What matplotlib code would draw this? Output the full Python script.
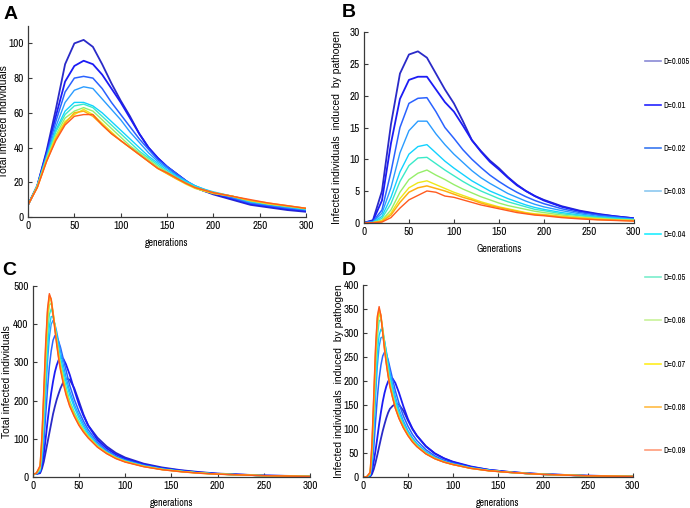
import matplotlib
matplotlib.use("Agg")
import matplotlib.pyplot as plt
from matplotlib.lines import Line2D

NARROW = ['Archivo Narrow', 'Liberation Sans', 'DejaVu Sans']
plt.rcParams['font.family'] = NARROW

labels = ["D=0.005", "D=0.01", "D=0.02", "D=0.03", "D=0.04",
          "D=0.05", "D=0.06", "D=0.07", "D=0.08", "D=0.09"]

# ---------- Panel A: total infected (slow) ----------
a_x = [0, 10, 20, 30, 40, 50, 60, 70, 80, 90, 100, 110, 120, 130, 140, 150,
       160, 170, 180, 190, 200, 220, 240, 260, 280, 300]
a_d005 = [7, 18, 38, 62, 88, 100, 102, 98, 88, 77, 67, 58, 48, 40, 34, 29, 25, 21, 17, 15, 13, 10, 7, 5.5, 4, 3]
a_d01 = [7, 18, 37, 58, 78, 87, 90, 88, 82, 74, 66, 57, 48, 40, 34, 29, 25, 21, 17, 15, 13.5, 10.5, 7.5, 6, 4.5, 3.5]
a_d02 = [7, 18, 36, 55, 72, 80, 81, 80, 74, 66, 59, 52, 45, 39, 33, 29, 25, 21, 18, 15.5, 14, 11, 8, 6.5, 5, 4]
a_d03 = [7, 18, 35, 52, 66, 73, 75, 74, 68, 62, 56, 49, 43, 37, 32, 28, 24, 21, 18, 16, 14, 11.5, 8.5, 7, 5.5, 4.2]
a_d04 = [7, 18, 34, 50, 61, 66, 66, 64, 60, 55, 50, 45, 40, 35, 31, 27, 23.5, 20.5, 18, 16, 14.5, 12, 9, 7.5, 6, 4.5]
a_d05 = [7, 18, 34, 49, 59, 64, 65, 63, 58, 53, 48, 43, 38, 34, 30, 26, 23, 20, 17.5, 15.5, 14, 12, 9, 7.5, 6, 4.6]
a_d06 = [7, 18, 33, 47, 57, 61, 63, 61, 56, 51, 46, 41, 37, 33, 29, 26, 22.5, 19.5, 17, 15, 14, 12, 9.5, 7.5, 6.2, 4.8]
a_d07 = [7, 17, 33, 46, 55, 59, 62, 59, 54, 49, 44, 40, 36, 32, 28, 25, 22, 19, 16.5, 15, 13.5, 12, 9.5, 7.5, 6.3, 5]
a_d08 = [7, 17, 32, 45, 54, 60, 61, 58, 53, 48, 44, 40, 36, 32, 28, 25, 22, 19.5, 17, 15.5, 14, 12, 9.5, 8, 6.5, 5]
a_d09 = [7, 17, 32, 44, 53, 58, 59, 59, 53, 48, 44, 40, 36, 32, 28, 25.5, 22.5, 19.5, 17, 15.5, 14, 12, 10, 8, 6.5, 5]
a_series = [a_d005, a_d01, a_d02, a_d03, a_d04, a_d05, a_d06, a_d07, a_d08, a_d09]

# ---------- Panel B: induced by pathogen (slow) ----------
b_x = a_x
b_d005 = [0, 0.4, 5, 15.5, 23.5, 26.5, 27, 26, 23.5, 21, 18.8, 16, 13, 11.3, 9.8, 8.6, 7.2, 6, 5, 4.2, 3.6, 2.6, 1.9, 1.4, 1.0, 0.7]
b_d01 = [0, 0.3, 3.5, 12.5, 19.5, 22.5, 23, 23, 21, 19, 17.5, 15.3, 13, 11.2, 9.6, 8.4, 7.1, 5.9, 5, 4.2, 3.5, 2.5, 1.8, 1.3, 1.0, 0.7]
b_d02 = [0, 0.2, 2, 8, 15, 18.8, 19.6, 19.7, 17.5, 15, 13.3, 11.5, 10, 8.7, 7.5, 6.5, 5.6, 4.8, 4.1, 3.5, 3, 2.2, 1.6, 1.2, 0.9, 0.6]
b_d03 = [0, 0.1, 1.5, 5.5, 11, 14.5, 16, 16, 14, 12.3, 10.8, 9.5, 8.2, 7.1, 6.2, 5.4, 4.6, 4, 3.4, 2.9, 2.5, 1.9, 1.4, 1, 0.8, 0.55]
b_d04 = [0, 0.05, 1, 4, 8, 10.8, 12, 12.3, 11, 9.7, 8.6, 7.6, 6.6, 5.8, 5, 4.4, 3.8, 3.3, 2.8, 2.4, 2.1, 1.6, 1.2, 0.9, 0.7, 0.5]
b_d05 = [0, 0, 0.7, 3, 6.5, 9, 10.2, 10.3, 9.3, 8.3, 7.4, 6.5, 5.7, 5, 4.4, 3.8, 3.3, 2.9, 2.5, 2.1, 1.9, 1.4, 1.1, 0.8, 0.6, 0.45]
b_d06 = [0, 0, 0.4, 2, 4.8, 6.8, 7.8, 8.3, 7.5, 6.8, 6, 5.3, 4.7, 4.1, 3.6, 3.1, 2.7, 2.4, 2.1, 1.8, 1.6, 1.2, 0.9, 0.7, 0.5, 0.4]
b_d07 = [0, 0, 0.3, 1.5, 3.8, 5.5, 6.3, 6.6, 6, 5.4, 4.8, 4.3, 3.8, 3.3, 2.9, 2.5, 2.2, 1.9, 1.6, 1.4, 1.3, 1.0, 0.8, 0.6, 0.45, 0.35]
b_d08 = [0, 0, 0.2, 1.2, 3.2, 4.8, 5.5, 5.8, 5.4, 5, 4.5, 4, 3.6, 3.1, 2.7, 2.4, 2.1, 1.8, 1.5, 1.3, 1.2, 0.9, 0.7, 0.5, 0.4, 0.3]
b_d09 = [0, 0, 0.1, 0.8, 2.3, 3.6, 4.3, 5, 4.8, 4.2, 4, 3.6, 3.2, 2.8, 2.5, 2.2, 1.9, 1.6, 1.4, 1.2, 1.1, 0.8, 0.6, 0.45, 0.35, 0.25]
b_series = [b_d005, b_d01, b_d02, b_d03, b_d04, b_d05, b_d06, b_d07, b_d08, b_d09]

# ---------- Panel C: total infected (fast) ----------
c_x = [0, 4, 8, 10, 12, 14, 16, 18, 20, 22, 24, 26, 28, 30, 33, 36, 40, 45, 50, 55,
       60, 70, 80, 90, 100, 120, 140, 160, 180, 200, 250, 300]
c_d005 = [7, 8, 10, 22, 40, 65, 90, 115, 140, 165, 185, 203, 218, 232, 248, 257, 255, 232, 198, 163, 135, 103, 80, 63, 51, 35, 25, 18, 13, 9, 4, 2]
c_d01 = [7, 8, 12, 30, 60, 100, 145, 185, 220, 250, 275, 293, 306, 312, 310, 295, 268, 228, 190, 160, 135, 97, 75, 59, 48, 33, 23, 17, 12, 8.5, 3.8, 1.8]
c_d02 = [7, 8, 14, 40, 90, 160, 230, 290, 330, 358, 370, 368, 355, 340, 310, 280, 240, 203, 172, 146, 124, 91, 70, 55, 45, 31, 22, 16, 11, 8, 3.6, 1.7]
c_d03 = [7, 9, 16, 50, 120, 210, 300, 365, 400, 410, 400, 380, 355, 330, 295, 262, 225, 190, 162, 138, 117, 86, 67, 52, 43, 30, 21, 15, 11, 7.8, 3.5, 1.6]
c_d04 = [7, 9, 18, 60, 140, 240, 335, 395, 420, 420, 400, 370, 340, 315, 280, 250, 215, 182, 155, 132, 112, 83, 65, 51, 42, 29, 20.5, 15, 10.6, 7.8, 3.5, 1.6]
c_d05 = [7, 9, 20, 70, 160, 270, 370, 425, 440, 425, 395, 360, 330, 300, 268, 236, 200, 170, 146, 125, 109, 82, 64, 51, 41.5, 28.5, 20, 14.8, 10.6, 7.7, 3.5, 1.6]
c_d06 = [7, 10, 22, 80, 180, 300, 400, 450, 455, 430, 395, 358, 324, 294, 258, 227, 194, 165, 141, 122, 106, 81, 63, 50, 41, 28, 20, 14.5, 10.5, 7.7, 3.5, 1.6]
c_d07 = [7, 10, 25, 90, 200, 320, 420, 466, 462, 432, 393, 355, 320, 290, 254, 223, 191, 163, 139, 121, 105, 80, 63, 50, 40, 28, 19.5, 14.5, 10, 7.6, 3.5, 1.5]
c_d08 = [7, 10, 28, 100, 215, 335, 430, 475, 466, 430, 390, 350, 315, 285, 250, 220, 188, 160, 137, 119, 104, 79, 62, 49, 40, 27.5, 19.5, 14, 10, 7.5, 3.5, 1.5]
c_d09 = [7, 10, 30, 110, 230, 350, 440, 480, 465, 425, 385, 345, 310, 280, 245, 215, 185, 158, 135, 117, 102, 78, 61, 48, 39, 27, 19, 14, 10, 7.5, 3.5, 1.5]
c_series = [c_d005, c_d01, c_d02, c_d03, c_d04, c_d05, c_d06, c_d07, c_d08, c_d09]

# ---------- Panel D: induced by pathogen (fast) ----------
d_x = c_x
d_d005 = [0, 0, 1, 6, 16, 30, 46, 63, 80, 96, 110, 123, 134, 142, 148, 152, 151, 138, 118, 100, 86, 64, 49, 39, 31, 21, 15, 11, 8, 6, 2.7, 1.3]
d_d01 = [0, 0, 2, 12, 32, 55, 82, 110, 135, 157, 175, 189, 199, 205, 205, 196, 176, 147, 121, 101, 86, 64, 49, 39, 32, 22, 15, 11, 8, 5.8, 2.7, 1.3]
d_d02 = [0, 0, 3, 20, 60, 115, 165, 205, 233, 252, 260, 256, 244, 228, 204, 180, 154, 127, 106, 89, 76, 57, 44, 35, 29, 20, 14.5, 10.5, 7.8, 5.7, 2.6, 1.2]
d_d03 = [0, 0, 4, 30, 90, 165, 230, 272, 290, 292, 282, 262, 240, 218, 192, 168, 142, 117, 97, 82, 70, 53, 41, 33, 27.5, 19, 14, 10, 7.6, 5.6, 2.6, 1.2]
d_d04 = [0, 0, 5, 36, 105, 190, 260, 295, 308, 302, 284, 260, 236, 212, 185, 160, 135, 112, 93, 79, 68, 51, 40, 32, 27, 19, 13.5, 10, 7.6, 5.6, 2.5, 1.2]
d_d05 = [0, 0, 6, 42, 120, 215, 290, 325, 328, 310, 282, 253, 226, 202, 176, 152, 129, 107, 90, 77, 66, 50, 39, 32, 26.5, 18.5, 13.5, 10, 7.5, 5.5, 2.5, 1.2]
d_d06 = [0, 0, 7, 48, 135, 235, 310, 340, 332, 307, 275, 245, 218, 195, 170, 148, 126, 105, 89, 76, 65, 49, 39, 31.5, 26.5, 18.5, 13.5, 10, 7.5, 5.5, 2.5, 1.2]
d_d07 = [0, 0, 8, 55, 148, 250, 322, 345, 335, 305, 272, 241, 215, 192, 168, 146, 124, 104, 88, 75, 64, 49, 38.5, 31.5, 26, 18, 13, 10, 7.5, 5.5, 2.5, 1.2]
d_d08 = [0, 0, 9, 62, 160, 260, 330, 350, 337, 303, 268, 238, 212, 190, 166, 144, 123, 103, 87, 74, 64, 48.5, 38, 31, 26, 18, 13, 10, 7.5, 5.5, 2.5, 1.2]
d_d09 = [0, 0, 10, 70, 170, 270, 335, 355, 336, 300, 265, 235, 210, 188, 165, 143, 122, 102, 86, 73, 63, 48, 38, 31, 26, 18, 13, 10, 7.5, 5.5, 2.5, 1.2]
d_series = [d_d005, d_d01, d_d02, d_d03, d_d04, d_d05, d_d06, d_d07, d_d08, d_d09]

line_colors = ['#2a2ac8', '#1c1cf5', '#2a62ff', '#2a9cff', '#12d2ff',
               '#3aeac8', '#96ee6a', '#ece81a', '#ffae10', '#ff5a1e']
legend_colors = ['#8a8ad6', '#2424ff', '#3a78f0', '#8cc8f0', '#20eeff',
                 '#7aeecc', '#c8f29a', '#ffee20', '#ffbb44', '#ff9c7a']
line_widths = [1.3, 1.3, 1.1, 1.0, 1.0, 1.0, 1.0, 1.0, 1.1, 1.0]

fig = plt.figure(figsize=(6.9, 5.08), dpi=100)

# letter, rect, x, series, ylim, yticks, ylabel, xlabel, letter pos, ylabel x (axes frac)
panels = [
    ("A", [0.0406, 0.5728, 0.403, 0.376], a_x, a_series, (0, 110), list(range(0, 101, 20)),
     "Total infected individuals", "generations", (0.005, 0.988), -0.067),
    ("B", [0.5275, 0.5616, 0.391, 0.3748], b_x, b_series, (0, 30), list(range(0, 31, 5)),
     "Infected individuals  induced  by pathogen", "Generations", (0.496, 0.992), -0.083),
    ("C", [0.0474, 0.061, 0.402, 0.376], c_x, c_series, (0, 500), list(range(0, 501, 100)),
     "Total infected individuals", "generations", (0.003, 0.484), -0.073),
    ("D", [0.526, 0.061, 0.391, 0.378], d_x, d_series, (0, 400), list(range(0, 401, 50)),
     "Infected individuals  induced  by pathogen", "generations", (0.496, 0.484), -0.072),
]

for letter, rect, xs, series, ylim, yticks, ylab, xlab, lpos, ylx in panels:
    ax = fig.add_axes(rect)
    for vals, col, lw in zip(series, line_colors, line_widths):
        ax.plot(xs, vals, color=col, lw=lw)
    ax.set_xlim(0, 300)
    ax.set_ylim(*ylim)
    ax.set_xticks(list(range(0, 301, 50)))
    ax.set_yticks(yticks)
    for s in ['top', 'right']:
        ax.spines[s].set_visible(False)
    for s in ['left', 'bottom']:
        ax.spines[s].set_color('#3a3a3a')
        ax.spines[s].set_linewidth(0.9)
    ax.tick_params(direction='in', length=3, width=0.8, color='#3a3a3a',
                   labelsize=8, pad=3)
    ax.set_ylabel(ylab, fontsize=7.5, family=['Liberation Sans', 'DejaVu Sans'])
    ax.yaxis.set_label_coords(ylx, 0.5)
    ax.set_xlabel(xlab, fontsize=7.2, labelpad=5)
    fig.text(lpos[0], lpos[1], letter, fontsize=14, fontweight='bold',
             family=['Liberation Sans', 'DejaVu Sans'], ha='left', va='top')

handles = [Line2D([], [], color=c, lw=1.2) for c in legend_colors]
fig.legend(handles, labels, loc='upper left', bbox_to_anchor=(0.935, 0.887),
           frameon=False, fontsize=6.0, labelspacing=4.1, handlelength=1.9,
           handletextpad=0.25, borderaxespad=0, borderpad=0)

fig.savefig("out.png", dpi=100)
